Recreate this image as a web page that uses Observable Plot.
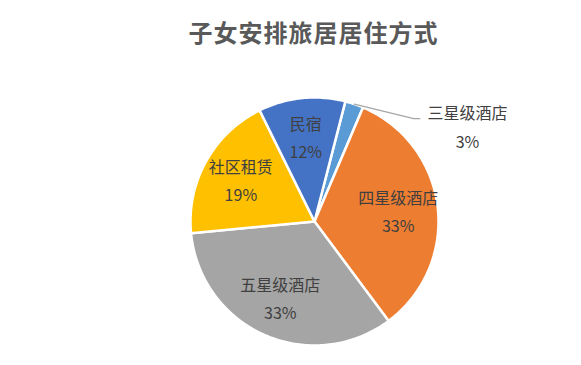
<!DOCTYPE html>
<html>
<head>
<meta charset="utf-8">
<script src="https://cdn.jsdelivr.net/npm/d3@7"></script>
<script src="https://cdn.jsdelivr.net/npm/@observablehq/plot@0.6"></script>
<style>
  html, body { margin: 0; padding: 0; background: #fff; }
  #title { height: 62px; line-height: 64px; text-align: center; padding-left: 46px; box-sizing: border-box;
    font-family: "Noto Sans CJK SC", sans-serif; font-weight: bold; font-size: 24px; color: #595959; letter-spacing: 1px; }
</style>
</head>
<body>
<div id="title">子女安排旅居居住方式</div>
<div id="chart"></div>
<script>
const categories = ["三星级酒店", "四星级酒店", "五星级酒店", "社区租赁", "民宿"];
const values = [2.4, 33.4, 33.7, 19.2, 11.3];
const pctLabels = ["3%", "33%", "33%", "19%", "12%"];
const colors = ["#5B9BD5", "#ED7D31", "#A5A5A5", "#FFC000", "#4472C4"];
const firstSliceAngle = 14.4; // degrees clockwise from 12 o'clock

const start = firstSliceAngle * Math.PI / 180;
const arcs = d3.pie().sort(null).startAngle(start).endAngle(start + 2 * Math.PI)(values);

// slice polygons in unit-circle coordinates (y up)
const slicePts = [];
arcs.forEach((a, i) => {
  const name = categories[i];
  slicePts.push({name, x: 0, y: 0});
  const n = Math.max(2, Math.ceil((a.endAngle - a.startAngle) / (Math.PI / 180)));
  for (let k = 0; k <= n; k++) {
    const t = a.startAngle + (a.endAngle - a.startAngle) * k / n;
    slicePts.push({name, x: Math.sin(t), y: Math.cos(t)});
  }
});

const labelR = 0.68;
const inside = [], outside = [];
arcs.forEach((a, i) => {
  const m = (a.startAngle + a.endAngle) / 2;
  const d = {name: categories[i], pct: pctLabels[i], mid: m};
  if (values[i] < 5) outside.push(d);
  else inside.push({...d, x: labelR * Math.sin(m), y: labelR * Math.cos(m)});
});

const leader = [];
outside.forEach(d => {
  leader.push({name: d.name, x: Math.sin(d.mid), y: Math.cos(d.mid)});
  leader.push({name: d.name, x: 0.80, y: 0.83});
  leader.push({name: d.name, x: 0.85, y: 0.83});
});
const outLabels = outside.map(d => ({...d, x: 1.234, y: 0.755}));

const cx = 314, cy = 159, R = 124;
const chart = Plot.plot({
  width: 581,
  height: 303,
  margin: 0,
  x: {domain: [-1, 1], range: [cx - R, cx + R], axis: null},
  y: {domain: [-1, 1], range: [cy + R, cy - R], axis: null},
  color: {domain: categories, range: colors},
  style: {fontFamily: "'Noto Sans CJK SC', sans-serif", background: "white"},
  marks: [
    Plot.line(slicePts, {x: "x", y: "y", z: "name", fill: "name", stroke: "white", strokeWidth: 2.5, strokeLinejoin: "round", curve: "linear-closed"}),
    Plot.line(leader, {x: "x", y: "y", z: "name", stroke: "#A6A6A6", strokeWidth: 1.2}),
    Plot.text(inside, {x: "x", y: "y", text: "name", dy: -13, fontSize: 16, fill: "#404040"}),
    Plot.text(inside, {x: "x", y: "y", text: "pct", dy: 15, fontSize: 16, fill: "#404040"}),
    Plot.text(outLabels, {x: "x", y: "y", text: "name", dy: -14, fontSize: 16, fill: "#404040"}),
    Plot.text(outLabels, {x: "x", y: "y", text: "pct", dy: 15, fontSize: 16, fill: "#404040"})
  ]
});
document.getElementById("chart").appendChild(chart);
</script>
</body>
</html>
